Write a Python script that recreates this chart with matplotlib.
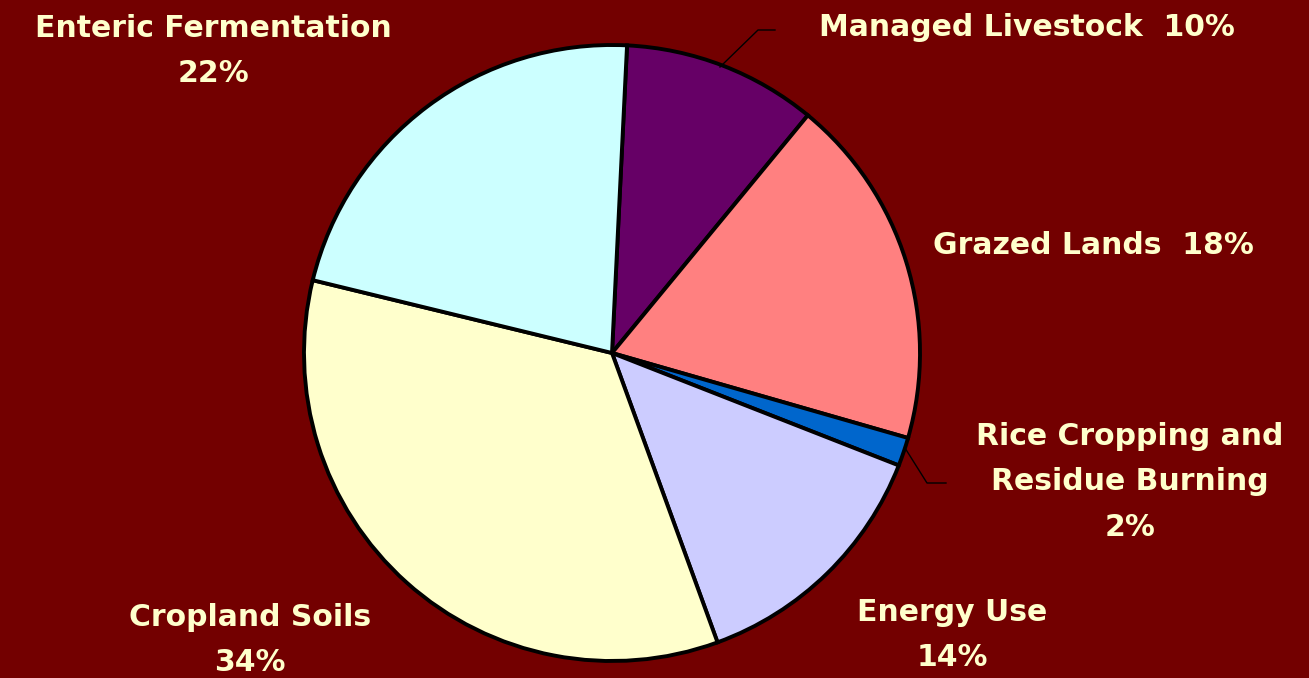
import matplotlib
matplotlib.use("Agg")
import matplotlib.pyplot as plt

# slices, clockwise from the top
labels = ["Managed Livestock", "Grazed Lands", "Rice Cropping and Residue Burning",
          "Energy Use", "Cropland Soils", "Enteric Fermentation"]
shares = [10.2, 18.5, 1.5, 13.5, 34.4, 22.0]
pct_text = ["10%", "18%", "2%", "14%", "34%", "22%"]
colors = ["#660066", "#FF8080", "#0066CC", "#CCCCFF", "#FFFFCC", "#CCFFFF"]

BG = "#730000"
TXT = "#FFFFCC"
W, H = 1309, 678

fig = plt.figure(figsize=(W / 100, H / 100), dpi=100, facecolor=BG)
ax = fig.add_axes([0, 0, 1, 1])
ax.set_facecolor(BG)

cx, cy, r = 612, H - 353, 308
ax.pie(shares, colors=colors, startangle=87.2, counterclock=False,
       center=(cx, cy), radius=r, frame=True,
       wedgeprops=dict(edgecolor="black", linewidth=2.8))
ax.set_xlim(0, W)
ax.set_ylim(0, H)
ax.set_aspect("equal")
ax.axis("off")

font = dict(color=TXT, fontsize=21.5, fontweight="bold", family="DejaVu Sans",
            ha="center", va="center", linespacing=1.72)


def y(top):
    return H - top


ax.text(213, y(51), "Enteric Fermentation\n" + pct_text[5], **font)
ax.text(1027, y(28), "Managed Livestock  " + pct_text[0], **font)
ax.text(1093, y(246), "Grazed Lands  " + pct_text[1], **font)
ax.text(1130, y(482), "Rice Cropping and\nResidue Burning\n" + pct_text[2], **font)
ax.text(952, y(635), "Energy Use\n" + pct_text[3], **font)
ax.text(250, y(640), "Cropland Soils\n" + pct_text[4], **font)

# leader lines
ax.plot([720, 758, 775], [y(67), y(30), y(30)], color="black", lw=1)
ax.plot([905, 927, 946], [y(448), y(483), y(483)], color="black", lw=1)

fig.savefig("out.png", dpi=100, facecolor=BG)
